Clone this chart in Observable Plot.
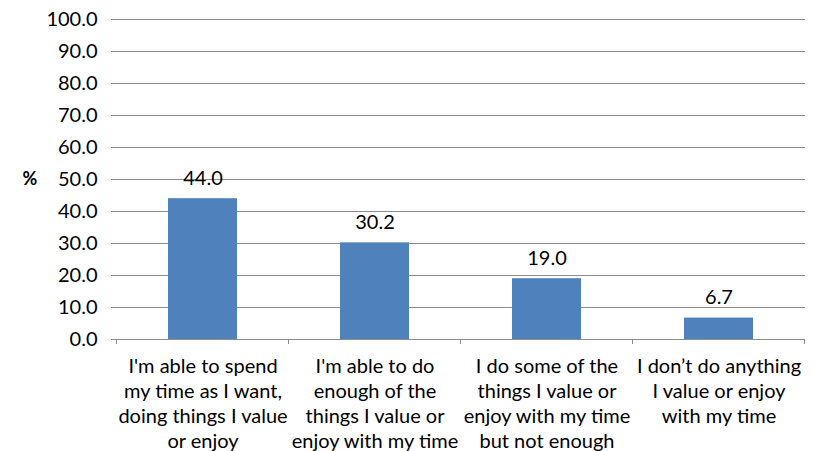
<!DOCTYPE html>
<html>
<head>
<meta charset="utf-8">
<script src="https://cdn.jsdelivr.net/npm/d3@7"></script>
<script src="https://cdn.jsdelivr.net/npm/@observablehq/plot@0.6"></script>
<style>
  html, body { margin: 0; padding: 0; background: #fff; }
  #chart { width: 819px; height: 451px; }
</style>
</head>
<body>
<div id="chart"></div>
<script>
const categories = [
  "I'm able to spend\nmy time as I want,\ndoing things I value\nor enjoy",
  "I'm able to do\nenough of the\nthings I value or\nenjoy with my time",
  "I do some of the\nthings I value or\nenjoy with my time\nbut not enough",
  "I don’t do anything\nI value or enjoy\nwith my time"
];
const values = [44.0, 30.2, 19.0, 6.7];
const yTicks = [0, 10, 20, 30, 40, 50, 60, 70, 80, 90, 100];
const yLabel = "%";

const data = categories.map((c, i) => ({category: c, value: values[i]}));
const font = "Lato, 'Open Sans', sans-serif";
const fs = 20;
const axisColor = "#8c8c8c";

// Tick marks at the boundaries between categories, placed via the x scale
function categoryTicks(index, scales, values, dimensions) {
  const x = scales.x;
  const bw = x.bandwidth ? x.bandwidth() : scales.scales.x.bandwidth;
  const step = x.step ? x.step() : scales.scales.x.step;
  const y0 = scales.y(0);
  const g = d3.create("svg:g").attr("stroke", axisColor).attr("shape-rendering", "crispEdges");
  const edges = categories.map(c => x(c) + bw / 2 - step / 2);
  edges.push(x(categories[categories.length - 1]) + bw / 2 + step / 2);
  for (const e of edges) {
    g.append("line").attr("x1", e).attr("x2", e).attr("y1", y0).attr("y2", y0 + 5);
  }
  return g.node();
}

const chart = Plot.plot({
  width: 819,
  height: 451,
  marginLeft: 116,
  marginRight: 14,
  marginTop: 19,
  marginBottom: 112,
  style: {fontFamily: font, fontSize: fs + "px", color: "#000", background: "#fff", overflow: "visible"},
  x: {domain: categories, paddingInner: 0.6, paddingOuter: 0.3, align: 0.5, axis: null},
  y: {domain: [0, 100], axis: null},
  marks: [
    Plot.ruleY(yTicks.filter(d => d > 0), {stroke: axisColor, strokeWidth: 1, shapeRendering: "crispEdges"}),
    Plot.barY(data, {x: "category", y: "value", fill: "#4F81BD"}),
    Plot.text(data, {x: "category", y: "value", text: d => d.value.toFixed(1), dy: -20, fontSize: fs, fill: "#000"}),
    // y axis
    Plot.ruleX([0], {frameAnchor: "left", stroke: axisColor, shapeRendering: "crispEdges"}),
    Plot.axisY(yTicks, {tickFormat: d => d.toFixed(1), tickSize: 5, tickPadding: 14, stroke: axisColor, fontSize: fs, fill: "#000", label: null}),
    Plot.text([yLabel], {frameAnchor: "left", y: 50, dx: -94, fontWeight: "bold", fontSize: fs - 2, fill: "#000"}),
    // x axis
    Plot.ruleY([0], {stroke: axisColor, shapeRendering: "crispEdges"}),
    categoryTicks,
    Plot.text(data, {x: "category", frameAnchor: "bottom", dy: 16, lineAnchor: "top", lineHeight: 1.25, text: "category", fontSize: fs, fill: "#000"})
  ]
});

document.getElementById("chart").append(chart);
</script>
</body>
</html>
